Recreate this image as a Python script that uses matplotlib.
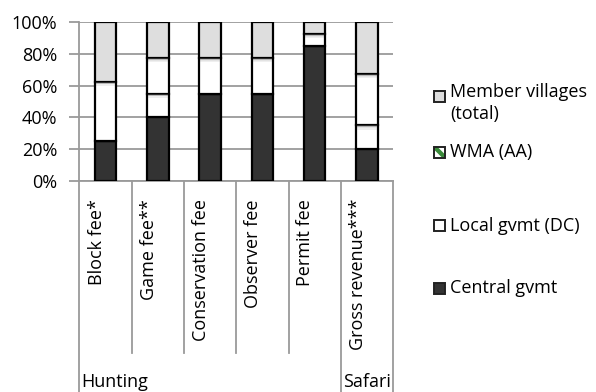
import matplotlib
matplotlib.use("Agg")
import matplotlib.pyplot as plt
from matplotlib.patches import Rectangle, Polygon
from matplotlib.lines import Line2D
import numpy as np

plt.rcParams['font.family'] = ['Open Sans', 'DejaVu Sans']

categories = ["Block fee*", "Game fee**", "Conservation fee", "Observer fee", "Permit fee", "Gross revenue***"]
groups = ["Hunting", "Safari"]
central = [25, 40, 55, 55, 85, 20]
local = [0, 15, 0, 0, 0, 15]
wma = [37.5, 22.5, 22.5, 22.5, 7.5, 32.5]
villages = [37.5, 22.5, 22.5, 22.5, 7.5, 32.5]
series_names = ["Member villages\n(total)", "WMA (AA)", "Local gvmt (DC)", "Central gvmt"]
yticks = [0, 20, 40, 60, 80, 100]

FS = 13
W, H = 596, 392
fig = plt.figure(figsize=(W/100, H/100), dpi=100)
L, R, T, B = 79.5, 393, 22, 181
ax = fig.add_axes([L/W, 1-B/H, (R-L)/W, (B-T)/H])

x = np.arange(len(categories))
bw = 0.41
grid_c = '#9a9a9a'
central_c = '#333333'
village_c = '#dedede'

bottom = np.zeros(len(categories))
for vals, fc in [(central, central_c), (local, 'white'), (wma, 'white'), (villages, village_c)]:
    v = np.array(vals, dtype=float)
    ax.bar(x, v, bw, bottom=bottom, color=fc, edgecolor='black', linewidth=1.6, zorder=3)
    # soft shadow under top border of each segment
    tops = bottom + v
    for xi, t, vi in zip(x, tops, v):
        if vi > 0 and t < 99.9 and fc != central_c:
            for k, a in enumerate([0.35, 0.22, 0.12]):
                ax.add_patch(Rectangle((xi - bw/2 + 0.02, t - 0.9 - k*0.9), bw - 0.04, 0.9,
                                       facecolor='#808080', alpha=a, lw=0, zorder=3.5))
    bottom = bottom + v

ax.set_xlim(-0.5, len(categories) - 0.5)
ax.set_ylim(0, 100)
ax.set_yticks(yticks)
ax.set_yticklabels([f"{t}%" for t in yticks], fontsize=FS)
ax.yaxis.grid(True, color=grid_c, linewidth=1.3, zorder=0)
ax.tick_params(axis='y', length=7, width=1.3, color=grid_c, pad=9)
ax.tick_params(axis='x', length=0, labelbottom=False)
for s in ['top', 'right']:
    ax.spines[s].set_visible(False)
ax.spines['left'].set_color(grid_c)
ax.spines['left'].set_linewidth(1.3)
ax.spines['bottom'].set_color(grid_c)
ax.spines['bottom'].set_linewidth(1.3)

cw = (R - L) / len(categories)
def fx(px):
    return px / W
def fy(py):
    return 1 - py / H

for i in range(len(categories) + 1):
    xp = L + i * cw
    yend = 392 if i in (0, 5, 6) else 353
    fig.add_artist(Line2D([fx(xp), fx(xp)], [fy(B), fy(yend)], color=grid_c, lw=1.3))

for i, c in enumerate(categories):
    xp = L + i * cw + 17
    fig.text(fx(xp), fy(199), c, rotation=90, ha='center', va='top', fontsize=FS)

fig.text(fx(L + 1.5), fy(387), groups[0], ha='left', va='baseline', fontsize=FS)
fig.text(fx(L + 5 * cw + 2), fy(387), groups[1], ha='left', va='baseline', fontsize=FS)

# legend
sq = 11
sx = 434
legend_items = [
    (series_names[0], 96, village_c, 103),
    (series_names[1], 152, 'wma', 152),
    (series_names[2], 226, 'white', 226),
    (series_names[3], 288, central_c, 288),
]
for name, cy, fc, ty in legend_items:
    x0, y0 = fx(sx), fy(cy + sq/2)
    w, h = sq / W, sq / H
    if fc == 'wma':
        fig.add_artist(Rectangle((x0, y0), w, h, facecolor='white', edgecolor='none'))
        d = 0.28
        pts = [(x0, y0 + h), (x0 + w*d, y0 + h), (x0 + w, y0 + h*d), (x0 + w, y0),
               (x0 + w*(1-d), y0), (x0, y0 + h*(1-d))]
        fig.add_artist(Polygon(pts, closed=True, facecolor='#3a8a3a', edgecolor='none'))
        fig.add_artist(Rectangle((x0, y0), w, h, facecolor='none', edgecolor='#222222', lw=1.4))
    else:
        fig.add_artist(Rectangle((x0, y0), w, h, facecolor=fc, edgecolor='#222222', lw=1.4))
    fig.text(fx(450), fy(ty), name, ha='left', va='center', fontsize=FS, linespacing=1.25)

fig.savefig("out.png", dpi=100)
